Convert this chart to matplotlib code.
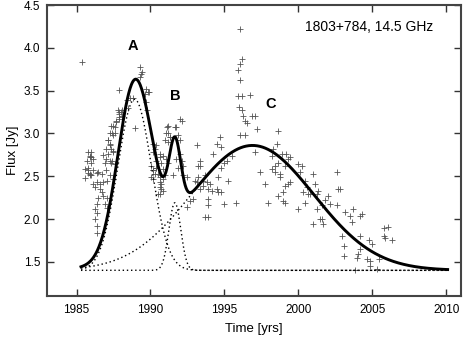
import numpy as np
import matplotlib
matplotlib.use("Agg")
import matplotlib.pyplot as plt

plt.rcParams['font.family'] = ['Liberation Sans', 'DejaVu Sans']

# observed flux densities (year, Jy)
obs_year = [
 1985.39, 1985.75, 1985.88, 1986.08, 1986.36, 1986.56, 1986.76, 1987.03, 1986.22, 1986.56,
 1986.69, 1986.76, 1986.42, 1987.03, 1986.36, 1986.22, 1986.36, 1986.22, 1986.36, 1986.36,
 1987.03, 1986.90, 1985.75, 1985.88, 1986.00, 1985.70, 1986.00, 1985.60, 1985.75, 1985.90,
 1986.40, 1987.00, 1987.00, 1986.80, 1987.40, 1986.90, 1987.10, 1987.24, 1987.00, 1987.45,
 1987.60, 1987.40, 1987.45, 1987.70, 1987.85, 1987.90, 1988.10, 1988.45, 1988.40, 1988.60,
 1988.80, 1987.80, 1987.90, 1988.00, 1988.10, 1987.90, 1987.70, 1987.60, 1987.35, 1987.24,
 1987.46, 1987.10, 1987.24, 1987.35, 1987.46, 1987.10, 1987.24, 1987.35, 1987.60, 1986.00,
 1985.90, 1986.10, 1985.77, 1986.10, 1986.00, 1986.45, 1986.70, 1987.24, 1987.46, 1985.55,
 1989.27, 1989.38, 1989.45, 1989.27, 1987.87, 1989.72, 1989.83, 1989.90, 1989.60, 1989.72,
 1989.77, 1988.98, 1990.15, 1990.30, 1990.40, 1990.35, 1990.50, 1991.12, 1991.20, 1991.30,
 1991.20, 1990.40, 1990.17, 1990.63, 1990.74, 1990.40, 1990.29, 1990.63, 1990.17, 1990.06,
 1990.17, 1990.06, 1990.85, 1991.00, 1990.85, 1990.63, 1990.74, 1990.50, 1990.63, 1990.85,
 1991.08, 1991.20, 1991.76, 1991.98, 1992.10, 1992.20, 1991.87, 1991.08, 1991.30, 1991.87,
 1991.98, 1991.00, 1991.98, 1992.10, 1991.20, 1991.64, 1991.76, 1991.53, 1992.20, 1992.44,
 1990.17, 1990.63, 1990.74, 1990.63, 1990.85, 1990.63, 1993.00, 1993.12, 1993.56, 1993.68,
 1993.79, 1994.00, 1993.56, 1993.90, 1993.34, 1994.13, 1994.47, 1994.58, 1994.80, 1993.90,
 1992.90, 1992.66, 1992.44, 1993.34, 1993.22, 1993.68, 1993.90, 1993.90, 1993.12, 1993.22,
 1995.00, 1995.78, 1995.26, 1994.80, 1995.00, 1995.50, 1994.58, 1994.24, 1994.80, 1994.70,
 1994.47, 1995.15, 1993.34, 1996.05, 1996.17, 1996.05, 1995.93, 1996.05, 1995.93, 1996.17,
 1996.73, 1996.00, 1996.17, 1996.27, 1996.84, 1997.07, 1996.40, 1996.50, 1997.18, 1996.40,
 1996.05, 1997.07, 1997.40, 1997.75, 1997.97, 1998.65, 1998.54, 1998.31, 1998.20, 1998.65,
 1998.20, 1998.42, 1998.76, 1999.20, 1999.33, 1999.10, 2000.23, 2000.10, 2000.45, 2001.00,
 2002.60, 2002.71, 1999.44, 1999.10, 1998.99, 1998.65, 1999.10, 1998.88, 1999.44, 2000.00,
 1998.42, 1998.76, 1999.30, 1998.97, 2000.00, 2000.34, 2000.68, 2000.45, 2001.25, 2001.59,
 2002.04, 2002.15, 2002.60, 2001.47, 2001.70, 2001.00, 2003.17, 2003.50, 2003.73, 2004.20,
 2003.62, 2001.10, 2000.80, 2001.36, 2002.83, 2001.25, 2001.60, 2004.30, 2002.95, 2003.06,
 2003.06, 2004.20, 2004.20, 2004.07, 2003.96, 2003.85, 2004.75, 2004.98, 2004.64, 2004.86,
 2004.86, 2005.32, 2005.43, 2005.77, 2006.04, 2005.77, 2006.33, 2005.88, 2001.80, 2000.60,
]
obs_flux = [
 3.84, 2.54, 2.51, 2.41, 2.43, 2.41, 2.43, 2.45, 2.37, 2.35,
 2.31, 2.27, 2.25, 2.25, 2.18, 2.12, 2.07, 2.00, 1.92, 1.84,
 2.13, 2.18, 2.78, 2.74, 2.72, 2.68, 2.65, 2.59, 2.57, 2.53,
 2.54, 2.57, 2.70, 2.75, 2.68, 2.65, 2.92, 2.88, 2.82, 2.80,
 3.01, 3.00, 3.09, 3.15, 3.19, 3.25, 3.27, 3.30, 3.39, 3.41,
 3.42, 3.27, 3.23, 3.25, 3.21, 3.17, 3.13, 3.07, 3.09, 3.01,
 2.98, 2.92, 2.86, 2.82, 2.78, 2.76, 2.68, 2.66, 2.64, 2.78,
 2.72, 2.70, 2.60, 2.57, 2.51, 2.55, 2.53, 2.51, 2.47, 2.48,
 3.78, 3.70, 3.72, 3.66, 3.51, 3.52, 3.49, 3.48, 3.46, 3.37,
 3.27, 3.06, 2.88, 2.82, 2.68, 2.60, 2.53, 3.07, 3.01, 2.96,
 2.90, 2.86, 2.78, 2.72, 2.66, 2.60, 2.53, 2.51, 2.57, 2.62,
 2.57, 2.49, 2.59, 2.51, 2.47, 2.43, 2.35, 2.29, 2.76, 2.74,
 2.70, 2.66, 2.70, 2.76, 2.68, 2.62, 2.60, 3.01, 2.96, 2.98,
 2.92, 2.92, 3.17, 3.15, 3.09, 3.08, 3.07, 2.51, 2.51, 2.49,
 2.47, 2.49, 2.41, 2.37, 2.33, 2.29, 2.45, 2.43, 2.45, 2.51,
 2.43, 2.41, 2.39, 2.35, 2.35, 2.33, 2.35, 2.31, 2.31, 2.23,
 2.23, 2.21, 2.14, 2.68, 2.49, 2.02, 2.02, 2.16, 2.87, 2.62,
 2.18, 2.19, 2.45, 2.60, 2.66, 2.74, 2.49, 2.76, 2.84, 2.96,
 2.88, 2.68, 2.62, 4.22, 3.87, 3.81, 3.74, 3.62, 3.44, 3.44,
 3.45, 3.31, 3.27, 3.21, 3.21, 3.21, 3.15, 3.12, 3.05, 2.98,
 2.98, 2.78, 2.55, 2.41, 2.19, 3.03, 2.88, 2.82, 2.74, 2.66,
 2.59, 2.55, 2.49, 2.76, 2.70, 2.62, 2.62, 2.55, 2.45, 2.53,
 2.55, 2.35, 2.43, 2.39, 2.31, 2.27, 2.19, 2.76, 2.72, 2.64,
 2.62, 2.53, 2.41, 2.21, 2.12, 2.31, 2.29, 2.19, 2.29, 2.16,
 2.27, 2.17, 2.16, 2.00, 1.94, 1.94, 2.08, 2.03, 2.12, 2.04,
 1.96, 2.41, 2.29, 2.33, 2.35, 2.12, 2.00, 2.06, 1.80, 1.69,
 1.57, 1.80, 1.65, 1.59, 1.55, 1.40, 1.75, 1.71, 1.53, 1.51,
 1.45, 1.41, 1.53, 1.89, 1.91, 1.80, 1.75, 1.78, 2.22, 2.38,
]

# fitted flare components (Gaussian): peak epoch, amplitude [Jy], width [yr]
baseline = 1.4
comp_names = ["A", "B", "C"]
comp_t0 = [1988.93, 1991.65, 1996.90]
comp_amp = [2.00, 0.79, 1.46]
comp_sigma = [1.14, 0.40, 4.15]
fit_start, fit_end = 1985.3, 2010.1

fig = plt.figure(figsize=(4.63, 3.43), dpi=100)
ax = fig.add_axes([0.1015, 0.137, 0.894, 0.848])

t = np.linspace(fit_start, fit_end, 800)
total = np.full_like(t, baseline)
for t0, a, s in zip(comp_t0, comp_amp, comp_sigma):
    comp = a * np.exp(-0.5 * ((t - t0) / s) ** 2)
    total += comp
    ax.plot(t, baseline + comp, color="black", lw=1.0, ls=(0, (1, 2)), zorder=2)

ax.plot(obs_year, obs_flux, ls="none", marker="+", ms=5, mew=0.6,
        color="#555555", zorder=1)
ax.plot(t, total, color="black", lw=2.1, zorder=3)

label_pos = [(1988.8, 4.02), (1991.65, 3.44), (1998.1, 3.35)]
for name, (lx, ly) in zip(comp_names, label_pos):
    ax.text(lx, ly, name, fontsize=10.5, fontweight="bold", ha="center", va="center")

ax.text(2009.15, 4.24, "1803+784, 14.5 GHz", fontsize=10, ha="right", va="center")

ax.set_xlim(1983.0, 2011.0)
ax.set_ylim(1.1, 4.5)
ax.set_xticks([1985, 1990, 1995, 2000, 2005, 2010])
ax.set_yticks([1.5, 2.0, 2.5, 3.0, 3.5, 4.0, 4.5])
ax.set_yticklabels(["1.5", "2.0", "2.5", "3.0", "3.5", "4.0", "4.5"])
ax.tick_params(direction="in", top=True, right=True, length=5, width=1,
               labelsize=8.5, color="#333333", pad=5)
ax.tick_params(axis="x", pad=6)
for sp in ax.spines.values():
    sp.set_linewidth(1.5)
    sp.set_color("#444444")
ax.set_xlabel("Time [yrs]", fontsize=9.5, labelpad=5)
ax.set_ylabel("Flux [Jy]", fontsize=9.5, labelpad=3)

fig.savefig("out.png", dpi=100)
